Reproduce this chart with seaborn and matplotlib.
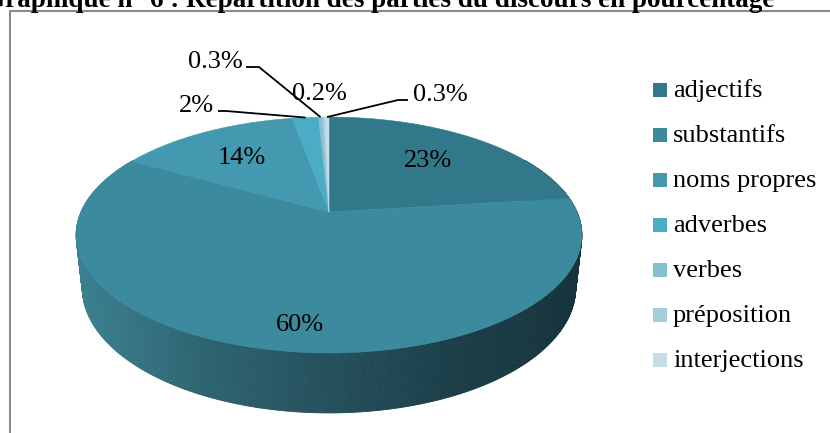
import matplotlib

matplotlib.use("Agg")
import matplotlib.pyplot as plt
import numpy as np
import seaborn as sns
from matplotlib.patches import Polygon, Rectangle

# data
categories = ["adjectifs", "substantifs", "noms propres", "adverbes",
              "verbes", "préposition", "interjections"]
values = [23, 60, 14, 2, 0.3, 0.2, 0.3]
value_labels = ["23%", "60%", "14%", "2%", "0.3%", "0.2%", "0.3%"]
title = "Graphique n° 6 : Répartition des parties du discours en pourcentage"

slice_colors = sns.color_palette(["#31788A", "#3B8A9E", "#4499B0", "#4BACC6",
                                  "#86BFD0", "#A6CDDB", "#C4DDE6"])
side_palette = sns.blend_palette(["#3C8191", "#2E6471", "#25505C", "#1B3E48", "#16333C"],
                                 n_colors=256)

# layout (figure pixels, y down)
W, H = 830, 433
CX, CY = 329, 212          # pie centre on screen
SCALE, DIST = 1131, 4.56   # perspective camera
SIN_E, COS_E = 0.4575, 0.889
DEPTH = 0.241              # pie thickness, radius units
FONT = 19

# label anchors (x centre, baseline) and optional leader lines
label_pos = {0: (428, 167), 1: (300, 331), 2: (242, 164), 3: (196, 112),
             4: (215, 68), 5: (319, 100), 6: (440, 101)}
leaders = {3: [(218, 111), (226, 111)],
           4: [(246, 67), (259, 67)],
           6: [(408, 100), (398, 100)]}


def project(x, y, z=0.0):
    v = y * SIN_E + z * COS_E
    w = DIST + y * COS_E - z * SIN_E
    return CX + SCALE * x / w, CY - SCALE * v / w


def rim(theta, r=1.0, z=0.0):
    t = np.radians(theta)
    return project(r * np.sin(t), r * np.cos(t), z)


sns.set_theme(style="white")
plt.rcParams["font.family"] = ["Liberation Serif", "DejaVu Serif"]

fig = plt.figure(figsize=(W / 100, H / 100), dpi=100)
ax = fig.add_axes([0, 0, 1, 1])
ax.set_xlim(0, W)
ax.set_ylim(H, 0)
ax.axis("off")

frac = np.array(values) / sum(values)
bounds = np.concatenate([[0], np.cumsum(frac)]) * 360

# side wall, back strips first so the front ones sit on top
thetas = np.linspace(60, 300, 481)
left_x = CX - SCALE / np.sqrt(DIST**2 - COS_E**2)
right_x = 2 * CX - left_x
strips = []
for t0, t1 in zip(thetas[:-1], thetas[1:]):
    quad = [rim(t0), rim(t1), rim(t1, z=-DEPTH), rim(t0, z=-DEPTH)]
    mx = np.mean([p[0] for p in quad])
    k = int(np.clip((mx - left_x) / (right_x - left_x), 0, 1) * 255)
    strips.append((np.cos(np.radians((t0 + t1) / 2)), quad, side_palette[k]))
for _, quad, col in sorted(strips, key=lambda s: -s[0]):
    ax.add_patch(Polygon(quad, closed=True, facecolor=col, edgecolor=col, lw=0.6))

# top face
for i, col in enumerate(slice_colors):
    b0, b1 = bounds[i], bounds[i + 1]
    n = max(3, int((b1 - b0) * 2))
    pts = [project(0, 0)] + [rim(t) for t in np.linspace(b0, b1, n)]
    ax.add_patch(Polygon(pts, closed=True, facecolor=col, edgecolor=col, lw=0.4))

# percentage labels
for i, lbl in enumerate(value_labels):
    x, y = label_pos[i]
    ax.text(x, y, lbl, fontsize=FONT, ha="center", va="baseline", color="black")
    if i in leaders:
        mid = (bounds[i] + bounds[i + 1]) / 2
        pts = leaders[i] + [rim(mid)]
        ax.plot([p[0] for p in pts], [p[1] for p in pts], color="black", lw=1.3,
                solid_capstyle="butt")

# legend
for i, (name, col) in enumerate(zip(categories, slice_colors)):
    yc = 90 + 45 * i
    ax.add_patch(Rectangle((653, yc - 7), 14, 14, facecolor=col, edgecolor="none"))
    ax.text(673, yc + 7, name, fontsize=FONT, ha="left", va="baseline", color="black")

# chart frame (only left and top edges are visible)
ax.plot([9.5, 9.5, W + 5], [H + 5, 11, 11], color="#8a8a8a", lw=1.5, clip_on=False)

# title sits partly above the crop, as in the source page
ax.text(379, 7, title, fontsize=19.5, fontweight="bold", ha="center", va="baseline",
        color="black")

fig.savefig("out.png", dpi=100)
